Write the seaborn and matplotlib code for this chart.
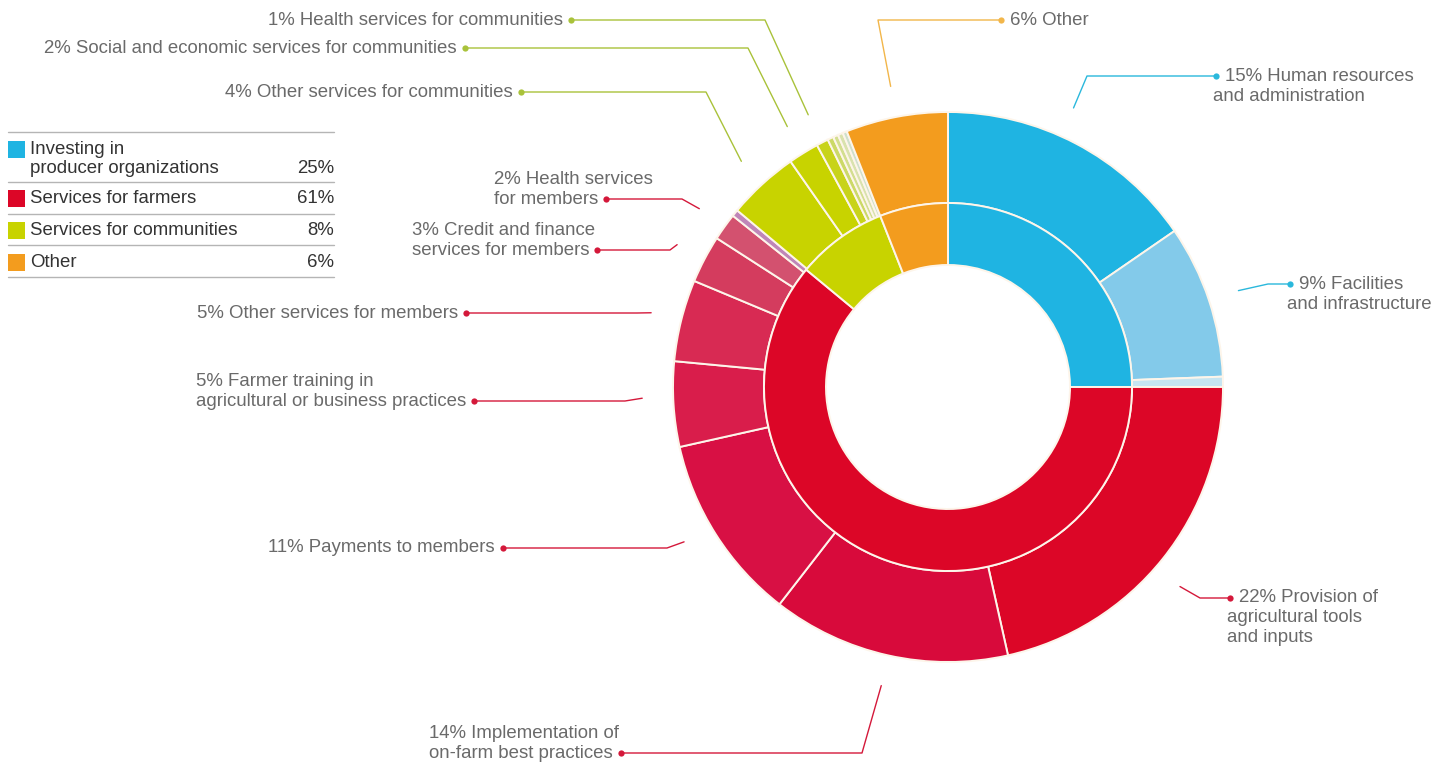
import numpy as np
import matplotlib
matplotlib.use("Agg")
import matplotlib.pyplot as plt
from matplotlib.patches import Rectangle
import seaborn as sns

# ---- data ----
categories = ["Investing in\nproducer organizations", "Services for farmers",
              "Services for communities", "Other"]
category_share = [25, 61, 8, 6]
category_colors = ["#1fb4e2", "#dc0627", "#c8d300", "#f39c1e"]
leader_colors = ["#2ab8dc", "#d4183a", "#a9c23a", "#f2b64a"]

sub_labels = [
    "15% Human resources\nand administration",
    "9% Facilities\nand infrastructure",
    "",
    "22% Provision of\nagricultural tools\nand inputs",
    "14% Implementation of\non-farm best practices",
    "11% Payments to members",
    "5% Farmer training in\nagricultural or business practices",
    "5% Other services for members",
    "3% Credit and finance\nservices for members",
    "2% Health services\nfor members",
    "",
    "4% Other services for communities",
    "2% Social and economic services for communities",
    "1% Health services for communities",
    "", "", "", "",
    "6% Other",
]
sub_values = [15.4, 9.0, 0.6,
              21.5, 14.0, 11.0, 5.0, 4.8, 2.8, 1.6, 0.4,
              4.2, 1.8, 0.7, 0.35, 0.3, 0.3, 0.25,
              6.0]
sub_parent = [0, 0, 0,
              1, 1, 1, 1, 1, 1, 1, 1,
              2, 2, 2, 2, 2, 2, 2,
              3]
sub_colors = ["#1fb4e2", "#83caea", "#c6e5f2",
              "#dc0627", "#d80a3b", "#d81044", "#d91d4b", "#d82a53", "#d43c5e", "#d3516f", "#bf86b8",
              "#c8d300", "#c8d300", "#c8d31a", "#ccd967", "#d3de8f", "#d9e2ad", "#cfe0cc",
              "#f39c1e"]

# ---- layout (pixels, y from top) ----
W, H = 1453, 765
CX, CY = 948, 387
R_OUT, R_MID, R_IN = 275, 184, 122
R_LEAD = 306
LINE_H = 20
# index: (side, dot_x, dot_y, elbow_x, start angle shift in degrees)
label_pos = {
    0: ("right", 1216, 76, 1087, -3.5),
    1: ("right", 1290, 284, 1268, 0),
    3: ("right", 1230, 598, 1200, 2),
    4: ("left", 621, 753, 862, 0),
    5: ("left", 503, 548, 667, 2),
    6: ("left", 474, 401, 625, 1.5),
    7: ("left", 466, 313, 637, 0),
    8: ("left", 597, 250, 670, 0),
    9: ("left", 606, 199, 682, 0),
    11: ("left", 521, 92, 706, 0),
    12: ("left", 465, 48, 748, 0),
    13: ("left", 571, 20, 765, 0),
    18: ("right", 1001, 20, 878, 0),
}

sns.set_theme(style="white")
plt.rcParams["font.family"] = ["Liberation Sans", "DejaVu Sans"]
LABEL_C = "#6a6a6a"
TEXT_C = "#333333"
FS = 13.4


def Y(y):
    return H - y


fig = plt.figure(figsize=(W / 100, H / 100), dpi=100)
ax = fig.add_axes([0, 0, 1, 1])

edge = dict(edgecolor="#fdf5ea", linewidth=1.4)
ax.pie(sub_values, radius=R_OUT, center=(CX, Y(CY)), startangle=90,
       counterclock=False, colors=sub_colors,
       wedgeprops=dict(width=R_OUT - R_MID, **edge))
ax.pie(category_share, radius=R_MID, center=(CX, Y(CY)), startangle=90,
       counterclock=False, colors=category_colors,
       wedgeprops=dict(width=R_MID - R_IN, **edge))
ax.set_xlim(0, W)
ax.set_ylim(0, H)
ax.set_aspect("equal")
ax.axis("off")

fig.canvas.draw()
renderer = fig.canvas.get_renderer()

# leader lines and labels
cum = np.cumsum([0] + sub_values)
total = cum[-1]
for i, (side, dx, dy, ex, shift) in label_pos.items():
    mid = (cum[i] + cum[i + 1]) / 2 / total * 2 * np.pi + np.deg2rad(shift)
    sx = CX + R_LEAD * np.sin(mid)
    sy = CY - R_LEAD * np.cos(mid)
    col = leader_colors[sub_parent[i]]
    ax.plot([sx, ex, dx], [Y(sy), Y(dy), Y(dy)], color=col, lw=1.0,
            solid_capstyle="round", zorder=3)
    ax.plot(dx, Y(dy), "o", ms=4.5, color=col, mec="none", zorder=4)
    lines = sub_labels[i].split("\n")
    if side == "right":
        ax.text(dx + 9, Y(dy), lines[0], ha="left", va="center",
                fontsize=FS, color=LABEL_C)
        for k, ln in enumerate(lines[1:], start=1):
            ax.text(dx - 3, Y(dy + k * LINE_H), ln, ha="left", va="center",
                    fontsize=FS, color=LABEL_C)
    else:
        t = ax.text(dx - 8, Y(dy), lines[-1], ha="right", va="center",
                    fontsize=FS, color=LABEL_C)
        x0 = ax.transData.inverted().transform(
            (t.get_window_extent(renderer).x0, 0))[0]
        for k, ln in enumerate(reversed(lines[:-1]), start=1):
            ax.text(x0, Y(dy - k * LINE_H), ln, ha="left", va="center",
                    fontsize=FS, color=LABEL_C)

# legend table
rule_y = [132, 182, 214, 245, 277]
for ry in rule_y:
    ax.plot([8, 334], [Y(ry), Y(ry)], color="#b5b5b5", lw=1.0)
row_text_y = [168, 198, 230, 262]
sq_center = [149, 198, 230, 262]
for k, (name, share, col) in enumerate(zip(categories, category_share, category_colors)):
    ax.add_patch(Rectangle((8, Y(sq_center[k] + 9)), 17, 17, color=col, lw=0))
    parts = name.split("\n")
    if len(parts) == 2:
        ax.text(30, Y(149), parts[0], ha="left", va="center", fontsize=FS, color=TEXT_C)
        ax.text(30, Y(168), parts[1], ha="left", va="center", fontsize=FS, color=TEXT_C)
    else:
        ax.text(30, Y(row_text_y[k]), name, ha="left", va="center", fontsize=FS, color=TEXT_C)
    ax.text(334, Y(row_text_y[k]), f"{share}%", ha="right", va="center",
            fontsize=FS, color=TEXT_C)

fig.savefig("out.png", dpi=100, facecolor="white")
